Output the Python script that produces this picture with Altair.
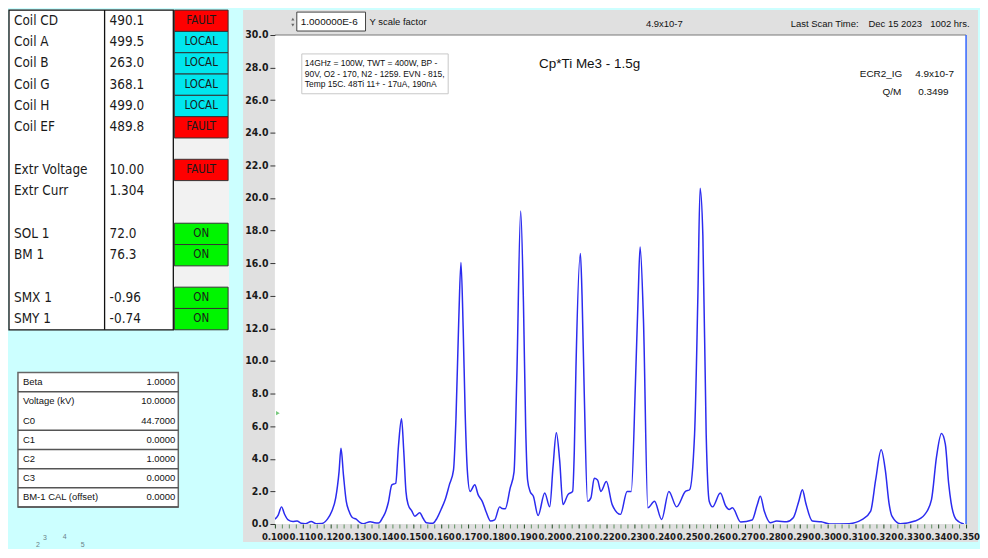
import altair as alt
import pandas as pd

# ---------------- data ----------------
scan_x = [0.1000, 0.1012, 0.1024, 0.1035, 0.1048, 0.1065, 0.1080, 0.1095, 0.1110, 0.1131,
          0.1150, 0.1170, 0.1190, 0.1205, 0.1220, 0.1232, 0.1239, 0.1248, 0.1258, 0.1268,
          0.1280, 0.1294, 0.1307, 0.1320, 0.1345, 0.1360, 0.1375, 0.1390, 0.1399, 0.1410,
          0.1423, 0.1437, 0.1447, 0.1458, 0.1466, 0.1474, 0.1482, 0.1495, 0.1506, 0.1524,
          0.1536, 0.1548, 0.1571, 0.1586, 0.1601, 0.1616, 0.1631, 0.1646, 0.1655, 0.1665,
          0.1673, 0.1681, 0.1688, 0.1696, 0.1706, 0.1723, 0.1735, 0.1750, 0.1765, 0.1780,
          0.1795, 0.1813, 0.1822, 0.1833, 0.1851, 0.1865, 0.1875, 0.1889, 0.1899, 0.1907,
          0.1914, 0.1923, 0.1935, 0.1952, 0.1976, 0.1994, 0.2006, 0.2018, 0.2030, 0.2042,
          0.2060, 0.2077, 0.2083, 0.2089, 0.2105, 0.2111, 0.2119, 0.2131, 0.2143, 0.2155,
          0.2167, 0.2179, 0.2199, 0.2220, 0.2250, 0.2274, 0.2289, 0.2304, 0.2314, 0.2321,
          0.2333, 0.2349, 0.2373, 0.2399, 0.2425, 0.2453, 0.2485, 0.2500, 0.2518, 0.2530,
          0.2538, 0.2548, 0.2560, 0.2571, 0.2583, 0.2611, 0.2631, 0.2643, 0.2655, 0.2685,
          0.2726, 0.2745, 0.2756, 0.2770, 0.2792, 0.2815, 0.2851, 0.2875, 0.2895, 0.2908,
          0.2920, 0.2944, 0.2976, 0.3006, 0.3077, 0.3125, 0.3155, 0.3173, 0.3193, 0.3208,
          0.3222, 0.3232, 0.3262, 0.3315, 0.3351, 0.3375, 0.3393, 0.3411, 0.3425, 0.3437,
          0.3446, 0.3464, 0.3492]
scan_y = [0.30, 0.55, 1.05, 0.60, 0.25, 0.15, 0.18, 0.05, 0.02, 0.15,
          0.02, 0.03, 0.30, 0.75, 1.60, 3.20, 4.65, 3.00, 1.40, 0.79,
          0.40, 0.30, 0.10, 0.02, 0.14, 0.08, 0.06, 0.40, 0.69, 1.30,
          2.40, 2.50, 4.80, 6.45, 4.50, 2.00, 1.19, 0.80, 0.48, 0.69,
          0.35, 0.08, 0.04, 0.35, 0.89, 1.50, 2.40, 3.30, 6.50, 12.50,
          16.05, 12.00, 6.95, 3.30, 2.00, 2.40, 1.80, 1.39, 0.70, 0.18,
          0.25, 1.05, 0.95, 0.93, 2.20, 3.20, 9.00, 19.20, 13.60, 6.00,
          2.70, 2.00, 1.70, 0.52, 1.90, 1.05, 3.50, 5.60, 3.90, 1.19,
          1.80, 2.00, 4.50, 9.60, 16.60, 14.00, 8.00, 1.39, 1.60, 2.80,
          2.70, 2.00, 2.60, 1.19, 0.59, 2.00, 2.00, 8.60, 14.00, 17.00,
          12.60, 0.99, 1.39, 0.28, 2.00, 1.05, 2.00, 2.10, 5.50, 14.00,
          20.60, 17.70, 5.50, 1.39, 1.05, 1.90, 1.09, 0.89, 0.99, 0.12,
          0.24, 1.20, 1.70, 0.80, 0.08, 0.18, 0.14, 0.38, 1.40, 2.10,
          1.30, 0.18, 0.14, 0.00, 0.02, 0.28, 0.79, 2.70, 4.55, 3.30,
          1.20, 0.48, 0.02, 0.18, 0.59, 1.50, 4.10, 5.55, 4.90, 2.50,
          1.30, 0.28, 0.00]

coil_labels = ["Coil CD", "Coil A", "Coil B", "Coil G", "Coil H", "Coil EF", "",
               "Extr Voltage", "Extr Curr", "", "SOL 1", "BM 1", "", "SMX 1", "SMY 1"]
coil_values = ["490.1", "499.5", "263.0", "368.1", "499.0", "489.8", "",
               "10.00", "1.304", "", "72.0", "76.3", "", "-0.96", "-0.74"]
coil_status = ["FAULT", "LOCAL", "LOCAL", "LOCAL", "LOCAL", "FAULT", "",
               "FAULT", "", "", "ON", "ON", "", "ON", "ON"]
status_names = ["FAULT", "LOCAL", "ON"]
status_colors = ["#ff0000", "#00e6ee", "#00f500"]

calib_labels = ["Beta", "Voltage (kV)", "C0", "C1", "C2", "C3", "BM-1 CAL (offset)"]
calib_values = ["1.0000", "10.0000", "44.7000", "0.0000", "1.0000", "0.0000", "0.0000"]
calib_sep = [1, 0, 1, 1, 1, 1, 1]

knob_labels = ["2", "3", "4", "5"]

y_tick_values = [0, 2, 4, 6, 8, 10, 12, 14, 16, 18, 20, 22, 24, 26, 28, 30]
x_domain = [0.10, 0.35]
y_domain = [0, 30]
x_tick_values = [round(0.10 + 0.0025 * i, 4) for i in range(101)]
cursor_x = [0.35]
marker_y = [6.8]

title_text = "Cp*Ti Me3 - 1.5g"
note_lines = ["14GHz = 100W, TWT = 400W, BP -",
              "90V, O2 - 170, N2 - 1259. EVN - 815,",
              "Temp 15C. 48Ti 11+ - 17uA, 190nA"]
scale_factor_text = "1.000000E-6"
gauge_text = "4.9x10-7"
qm_text = "0.3499"
scan_time = ["Last Scan Time:", "Dec 15 2023", "1002 hrs."]

# ---------------- style ----------------
BG = "#ccffff"
GREY = "#e0e0e0"
NARROW = "Liberation Sans Narrow, Arial Narrow, DejaVu Sans Condensed, Roboto, sans-serif"
SANS = "Liberation Sans, Arial, sans-serif"
TOP = 25          # header band above the plot area


def one_row(**kw):
    return alt.Data(values=[kw if kw else {"k": 0}])


def label(text, x, y, size=10, align="left", font=SANS, color="#111111", weight="normal"):
    return alt.Chart(one_row(t=text)).mark_text(
        align=align, baseline="middle", font=font, fontSize=size, color=color, fontWeight=weight
    ).encode(x=alt.value(x), y=alt.value(y), text="t:N")


def box(x, x2, y, y2, fill, stroke=None, sw=1.0):
    kw = dict(fill=fill)
    if stroke:
        kw.update(stroke=stroke, strokeWidth=sw)
    else:
        kw.update(strokeWidth=0)
    return alt.Chart(one_row()).mark_rect(**kw).encode(
        x=alt.value(x), x2=alt.value(x2), y=alt.value(y), y2=alt.value(y2))


# ---------------- status table ----------------
TW = 221
TB = 296                      # bottom of the status table
status_df = pd.DataFrame({"row": list(range(len(coil_labels))), "label": coil_labels,
                          "value": coil_values, "status": coil_status})
band = alt.Scale(type="band", paddingInner=0, paddingOuter=0, range=[-TOP, TB])
yrow = alt.Y("row:O", axis=None, scale=band)
yrow_c = alt.Y("row:O", axis=None, scale=band, bandPosition=0.5)
sbase = alt.Chart(status_df)

status_chart = alt.layer(
    box(165, TW, -TOP, TB - 3, "#f2f2f2"),
    box(0, 165, -TOP, TB, "white", "#111111", 1.3),
    alt.Chart(one_row()).mark_rule(color="#111111", strokeWidth=1.3).encode(
        x=alt.value(96), y=alt.value(-TOP), y2=alt.value(TB)),
    sbase.transform_filter("datum.status != ''").mark_rect(stroke="#333333", strokeWidth=1).encode(
        y=yrow, x=alt.value(166), x2=alt.value(220),
        color=alt.Color("status:N", scale=alt.Scale(domain=status_names, range=status_colors), legend=None)),
    sbase.mark_text(align="left", baseline="middle", font=NARROW, fontSize=13.5, color="#1a1a1a").encode(
        y=yrow_c, x=alt.value(5), text="label:N"),
    sbase.mark_text(align="left", baseline="middle", font=NARROW, fontSize=13.5, color="#1a1a1a").encode(
        y=yrow_c, x=alt.value(101), text="value:N"),
    sbase.transform_filter("datum.status != ''").mark_text(
        align="center", baseline="middle", font=NARROW, fontSize=11.5, color="#1a1a1a").encode(
        y=yrow_c, x=alt.value(193), text="status:N"),
).properties(width=TW, height=TB)

# ---------------- calibration table ----------------
CH = 135
cband = alt.Scale(type="band", paddingInner=0, paddingOuter=0)
calib_df = pd.DataFrame({"row": list(range(len(calib_labels))), "label": calib_labels,
                         "value": calib_values, "sep": calib_sep})
cbase = alt.Chart(calib_df)
knob_df = pd.DataFrame({"t": knob_labels, "px": [29, 36, 56, 74], "py": [173, 166, 165, 173]})

calib_chart = alt.layer(
    box(9, 170, 0, CH, "white", "#666666", 1.5),
    cbase.transform_filter("datum.sep == 1").mark_rule(color="#555555", strokeWidth=1.5).encode(
        y=alt.Y("row:O", axis=None, scale=cband, bandPosition=1), x=alt.value(9), x2=alt.value(170)),
    cbase.mark_text(align="left", baseline="middle", font=SANS, fontSize=9.5, color="#111111").encode(
        y=alt.Y("row:O", axis=None, scale=cband, bandPosition=0.5), x=alt.value(14), text="label:N"),
    cbase.mark_text(align="right", baseline="middle", font=SANS, fontSize=9.5, color="#111111").encode(
        y=alt.Y("row:O", axis=None, scale=cband, bandPosition=0.5), x=alt.value(167), text="value:N"),
    alt.Chart(knob_df).mark_text(font=SANS, fontSize=7, color="#6a7f88").encode(
        x=alt.X("px:Q", scale=None), y=alt.Y("py:Q", scale=None), text="t:N"),
).properties(width=TW, height=CH)

left_col = alt.vconcat(status_chart, calib_chart, spacing=41)

# ---------------- main scan plot ----------------
W, H = 694, 491
xscale = alt.Scale(domain=x_domain, nice=False, zero=False)
yscale = alt.Scale(domain=y_domain, nice=False, zero=False)
major_test = "abs(datum.value * 100 - round(datum.value * 100)) < 0.01"
xaxis = alt.Axis(values=x_tick_values, title=None, grid=False, domain=False,
                 labelExpr="(" + major_test + ") ? format(datum.value, '.3f') : ''",
                 labelOverlap=False, labelFlush=False, labelBound=False,
                 tickSize=4, tickWidth=1,
                 tickColor={"condition": {"test": major_test, "value": "#1f4a1f"}, "value": "#5f8f5f"},
                 labelFont=NARROW, labelFontSize=9.5, labelFontWeight="bold", labelColor="#1a1a1a",
                 labelPadding=4, zindex=2)
yaxis = alt.Axis(values=y_tick_values, format=".1f", title=None, grid=False, domain=False,
                 tickSize=5, tickColor="#333333", tickWidth=1,
                 labelFont=NARROW, labelFontSize=10.5, labelFontWeight="bold", labelColor="#1a1a1a",
                 labelPadding=2, zindex=2)
x_enc = alt.X("x:Q", scale=xscale, axis=xaxis)
y_enc = alt.Y("y:Q", scale=yscale, axis=yaxis)

scan_df = pd.DataFrame({"x": scan_x, "y": scan_y})

main = alt.layer(
    box(-32, W + 12, -TOP, H + 18, GREY),
    box(0, W, 0, H, "white"),
    alt.Chart(one_row()).mark_rule(color="#777777", strokeWidth=1).encode(
        x=alt.value(0), x2=alt.value(W), y=alt.value(0)),
    # header controls
    box(22, 91, -23, -4, "white", "#444444", 1),
    alt.Chart(one_row()).mark_point(shape="triangle-up", filled=True, size=10, color="#333333").encode(
        x=alt.value(18), y=alt.value(-16)),
    alt.Chart(one_row()).mark_point(shape="triangle-down", filled=True, size=10, color="#333333").encode(
        x=alt.value(18), y=alt.value(-10)),
    label(scale_factor_text, 26, -13, 10),
    label("Y scale factor", 95, -13, 9.5),
    label(gauge_text, 391, -11, 9.5, align="center"),
    label(scan_time[0], 518, -11, 9.5),
    label(scan_time[1], 596, -11, 9.5),
    label(scan_time[2], 658, -11, 9.5),
    # note box
    box(27, 174, 19, 59, "white", "#c8c8c8", 1),
    label(note_lines[0], 30, 28, 8.5),
    label(note_lines[1], 30, 38.7, 8.5),
    label(note_lines[2], 30, 49.4, 8.5),
    label(title_text, 316, 29, 13.5, align="center"),
    label("ECR2_IG", 630, 39, 10, align="right"),
    label(gauge_text, 643, 39, 10),
    label("Q/M", 629, 57, 10, align="right"),
    label(qm_text, 646, 57, 10),
    # data
    alt.Chart(scan_df).mark_line(color="#2b2bef", strokeWidth=1.5, interpolate="monotone", clip=True).encode(
        x=x_enc, y=y_enc),
    alt.Chart(pd.DataFrame({"x": cursor_x})).mark_rule(color="#3366ff", strokeWidth=1.5).encode(x=x_enc),
    alt.Chart(pd.DataFrame({"y": marker_y})).mark_point(shape="triangle-right", filled=True, size=18,
                                                        color="#3cb043").encode(x=alt.value(3), y=y_enc),
).properties(width=W, height=H)

chart = alt.hconcat(left_col, main, spacing=14).properties(
    padding=0, background=BG
).configure_view(strokeWidth=0)

chart.save("out.html", embed_options={"renderer": "svg", "actions": False})
